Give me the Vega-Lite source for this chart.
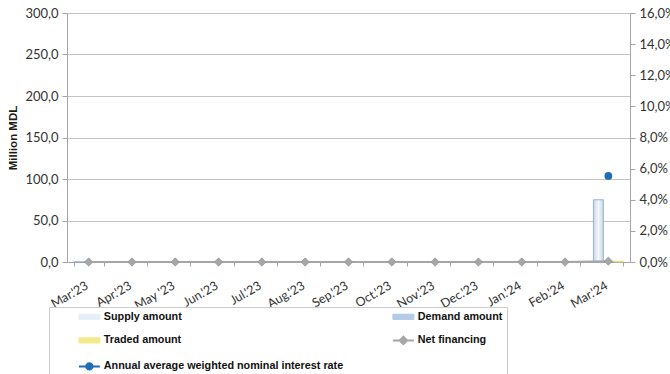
{
  "$schema": "https://vega.github.io/schema/vega-lite/v6.json",
  "width": 563,
  "height": 249,
  "autosize": {"type": "none"},
  "padding": {"left": 67, "top": 13, "right": 40, "bottom": 112},
  "background": "white",
  "config": {
    "locale": {"number": {"decimal": ",", "thousands": " ", "grouping": [3], "currency": ["", ""]}},
    "view": {"stroke": null},
    "axis": {
      "labelFont": "Lato",
      "labelFontSize": 13,
      "labelColor": "#333333",
      "domainColor": "#a6a6a6",
      "tickColor": "#a6a6a6",
      "gridColor": "#c4c4c4",
      "tickSize": 5
    }
  },
  "datasets": {
    "amounts": [
      {"month": "Mar.'23", "series": "Supply amount", "value": 0},
      {"month": "Apr.'23", "series": "Supply amount", "value": 0},
      {"month": "May '23", "series": "Supply amount", "value": 0},
      {"month": "Jun.'23", "series": "Supply amount", "value": 0},
      {"month": "Jul.'23", "series": "Supply amount", "value": 0},
      {"month": "Aug.'23", "series": "Supply amount", "value": 0},
      {"month": "Sep.'23", "series": "Supply amount", "value": 0},
      {"month": "Oct.'23", "series": "Supply amount", "value": 0},
      {"month": "Nov.'23", "series": "Supply amount", "value": 0},
      {"month": "Dec.'23", "series": "Supply amount", "value": 0},
      {"month": "Jan.'24", "series": "Supply amount", "value": 0},
      {"month": "Feb.'24", "series": "Supply amount", "value": 0},
      {"month": "Mar.'24", "series": "Supply amount", "value": 75},
      {"month": "Mar.'23", "series": "Demand amount", "value": 0},
      {"month": "Apr.'23", "series": "Demand amount", "value": 0},
      {"month": "May '23", "series": "Demand amount", "value": 0},
      {"month": "Jun.'23", "series": "Demand amount", "value": 0},
      {"month": "Jul.'23", "series": "Demand amount", "value": 0},
      {"month": "Aug.'23", "series": "Demand amount", "value": 0},
      {"month": "Sep.'23", "series": "Demand amount", "value": 0},
      {"month": "Oct.'23", "series": "Demand amount", "value": 0},
      {"month": "Nov.'23", "series": "Demand amount", "value": 0},
      {"month": "Dec.'23", "series": "Demand amount", "value": 0},
      {"month": "Jan.'24", "series": "Demand amount", "value": 0},
      {"month": "Feb.'24", "series": "Demand amount", "value": 0},
      {"month": "Mar.'24", "series": "Demand amount", "value": 0},
      {"month": "Mar.'23", "series": "Traded amount", "value": 0},
      {"month": "Apr.'23", "series": "Traded amount", "value": 0},
      {"month": "May '23", "series": "Traded amount", "value": 0},
      {"month": "Jun.'23", "series": "Traded amount", "value": 0},
      {"month": "Jul.'23", "series": "Traded amount", "value": 0},
      {"month": "Aug.'23", "series": "Traded amount", "value": 0},
      {"month": "Sep.'23", "series": "Traded amount", "value": 0},
      {"month": "Oct.'23", "series": "Traded amount", "value": 0},
      {"month": "Nov.'23", "series": "Traded amount", "value": 0},
      {"month": "Dec.'23", "series": "Traded amount", "value": 0},
      {"month": "Jan.'24", "series": "Traded amount", "value": 0},
      {"month": "Feb.'24", "series": "Traded amount", "value": 0},
      {"month": "Mar.'24", "series": "Traded amount", "value": 1}
    ],
    "net": [
      {"month": "Mar.'23", "series": "Net financing", "value": 0},
      {"month": "Apr.'23", "series": "Net financing", "value": 0},
      {"month": "May '23", "series": "Net financing", "value": 0},
      {"month": "Jun.'23", "series": "Net financing", "value": 0},
      {"month": "Jul.'23", "series": "Net financing", "value": 0},
      {"month": "Aug.'23", "series": "Net financing", "value": 0},
      {"month": "Sep.'23", "series": "Net financing", "value": 0},
      {"month": "Oct.'23", "series": "Net financing", "value": 0},
      {"month": "Nov.'23", "series": "Net financing", "value": 0},
      {"month": "Dec.'23", "series": "Net financing", "value": 0},
      {"month": "Jan.'24", "series": "Net financing", "value": 0},
      {"month": "Feb.'24", "series": "Net financing", "value": 0},
      {"month": "Mar.'24", "series": "Net financing", "value": 1}
    ],
    "rate": [
      {"month": "Mar.'24", "series": "Annual average weighted nominal interest rate", "rate": 0.0553}
    ]
  },
  "encoding": {
    "x": {
      "field": "month",
      "type": "nominal",
      "sort": null,
      "title": null,
      "scale": {
        "domain": ["Mar.'23", "Apr.'23", "May '23", "Jun.'23", "Jul.'23", "Aug.'23", "Sep.'23", "Oct.'23", "Nov.'23", "Dec.'23", "Jan.'24", "Feb.'24", "Mar.'24"],
        "paddingInner": 0.31,
        "paddingOuter": 0.155
      },
      "axis": {
        "labelAngle": -30,
        "labelAlign": "right",
        "labelBaseline": "top",
        "labelPadding": 13,
        "labelOffset": -5,
        "tickBand": "extent",
        "tickSize": 4,
        "labelFontSize": 12.5
      }
    }
  },
  "layer": [
    {
      "layer": [
        {
          "data": {"name": "amounts"},
          "transform": [{"filter": "datum.series === 'Supply amount'"}],
          "mark": {
            "type": "bar",
            "fill": {"gradient": "linear", "x1": 0, "y1": 0, "x2": 1, "y2": 0,
              "stops": [{"offset": 0, "color": "#c3d5ea"}, {"offset": 0.5, "color": "#f5f8fc"}, {"offset": 1, "color": "#c3d5ea"}]},
            "stroke": "#8ea5c0",
            "strokeWidth": 0.8
          },
          "encoding": {
            "y": {
              "field": "value",
              "type": "quantitative",
              "scale": {"domain": [0, 300]},
              "axis": {
                "title": "Million MDL",
                "titleFont": "Liberation Sans",
                "titleFontSize": 11.5,
                "titleFontWeight": "bold",
                "titleColor": "#1a1a1a",
                "titlePadding": 6,
                "values": [0, 50, 100, 150, 200, 250, 300],
                "format": ".1f",
                "labelPadding": 4,
                "grid": true
              }
            },
            "xOffset": {"field": "series", "type": "nominal", "scale": {"domain": ["Supply amount", "Demand amount", "Traded amount"]}}
          }
        },
        {
          "data": {"name": "amounts"},
          "transform": [{"filter": "datum.series === 'Demand amount'"}],
          "mark": {
            "type": "bar",
            "fill": {"gradient": "linear", "x1": 0, "y1": 0, "x2": 1, "y2": 0,
              "stops": [{"offset": 0, "color": "#8fb1d8"}, {"offset": 0.5, "color": "#d3e2f2"}, {"offset": 1, "color": "#8fb1d8"}]},
            "stroke": "#7e9dc2",
            "strokeWidth": 0.8
          },
          "encoding": {
            "y": {"field": "value", "type": "quantitative"},
            "xOffset": {"field": "series", "type": "nominal"}
          }
        },
        {
          "data": {"name": "amounts"},
          "transform": [{"filter": "datum.series === 'Traded amount'"}],
          "mark": {
            "type": "bar",
            "fill": {"gradient": "linear", "x1": 0, "y1": 0, "x2": 1, "y2": 0,
              "stops": [{"offset": 0, "color": "#e8dc6a"}, {"offset": 0.5, "color": "#fbf6b4"}, {"offset": 1, "color": "#e8dc6a"}]},
            "stroke": "#d9cc5a",
            "strokeWidth": 0.5
          },
          "encoding": {
            "y": {"field": "value", "type": "quantitative"},
            "xOffset": {"field": "series", "type": "nominal"}
          }
        },
        {
          "data": {"name": "net"},
          "mark": {"type": "line", "strokeWidth": 2},
          "encoding": {
            "y": {"field": "value", "type": "quantitative"},
            "color": {
              "field": "series",
              "type": "nominal",
              "scale": {
                "domain": ["Supply amount", "Demand amount", "Traded amount", "Net financing", "Annual average weighted nominal interest rate"],
                "range": ["#e6eef7", "#b3cbe6", "#f3ea8c", "#a6a6a6", "#1f6db3"]
              },
              "legend": {
                "title": null,
                "orient": "none",
                "legendX": -18,
                "legendY": 294,
                "columns": 2,
                "direction": "horizontal",
                "padding": 4,
                "strokeColor": "#cccccc",
                "fillColor": "white",
                "symbolSize": 441,
                "symbolOffset": 31,
                "labelOffset": 9,
                "labelFont": "Liberation Sans",
                "labelFontSize": 10.8,
                "labelFontWeight": "bold",
                "labelColor": "#111111",
                "labelLimit": 0,
                "rowPadding": 10,
                "columnPadding": 23,
                "encode": {
                  "symbols": {
                    "update": {
                      "shape": {"signal": "datum.value === 'Net financing' ? 'M-1,0H1M0,-0.36L0.36,0L0,0.36L-0.36,0Z' : datum.value === 'Annual average weighted nominal interest rate' ? 'M-1,0H1M0.3,0A0.3,0.3 0 1,1 -0.3,0A0.3,0.3 0 1,1 0.3,0Z' : 'M-1,-0.25H1V0.25H-1Z'"},
                      "fill": {"scale": "color", "field": "value"},
                      "stroke": {"signal": "datum.value === 'Supply amount' ? '#8ea5c0' : datum.value === 'Demand amount' ? '#7e9dc2' : datum.value === 'Traded amount' ? '#d2c455' : datum.value === 'Net financing' ? '#9a9a9a' : '#1f6db3'"},
                      "strokeWidth": {"signal": "datum.value === 'Net financing' || datum.value === 'Annual average weighted nominal interest rate' ? 2 : 1"},
                      "opacity": {"value": 1}
                    }
                  }
                }
              }
            }
          }
        },
        {
          "data": {"name": "net"},
          "mark": {"type": "point", "shape": "diamond", "filled": true, "size": 70, "opacity": 1, "stroke": "#8f8f8f", "strokeWidth": 0.6},
          "encoding": {
            "y": {"field": "value", "type": "quantitative"},
            "color": {
              "field": "series",
              "type": "nominal",
              "scale": {
                "domain": ["Supply amount", "Demand amount", "Traded amount", "Net financing", "Annual average weighted nominal interest rate"],
                "range": ["#e6eef7", "#b3cbe6", "#f3ea8c", "#a6a6a6", "#1f6db3"]
              }
            }
          }
        }
      ]
    },
    {
      "data": {"name": "rate"},
      "mark": {"type": "point", "shape": "circle", "filled": true, "size": 60, "opacity": 1},
      "encoding": {
        "y": {
          "field": "rate",
          "type": "quantitative",
          "scale": {"domain": [0, 0.16]},
          "axis": {
            "orient": "right",
            "title": null,
            "values": [0, 0.02, 0.04, 0.06, 0.08, 0.1, 0.12, 0.14, 0.16],
            "format": ".1%",
            "labelPadding": 4,
            "grid": false
          }
        },
        "color": {
          "field": "series",
          "type": "nominal",
          "scale": {
            "domain": ["Supply amount", "Demand amount", "Traded amount", "Net financing", "Annual average weighted nominal interest rate"],
            "range": ["#e6eef7", "#b3cbe6", "#f3ea8c", "#a6a6a6", "#1f6db3"]
          }
        }
      }
    }
  ],
  "resolve": {"scale": {"y": "independent"}}
}
